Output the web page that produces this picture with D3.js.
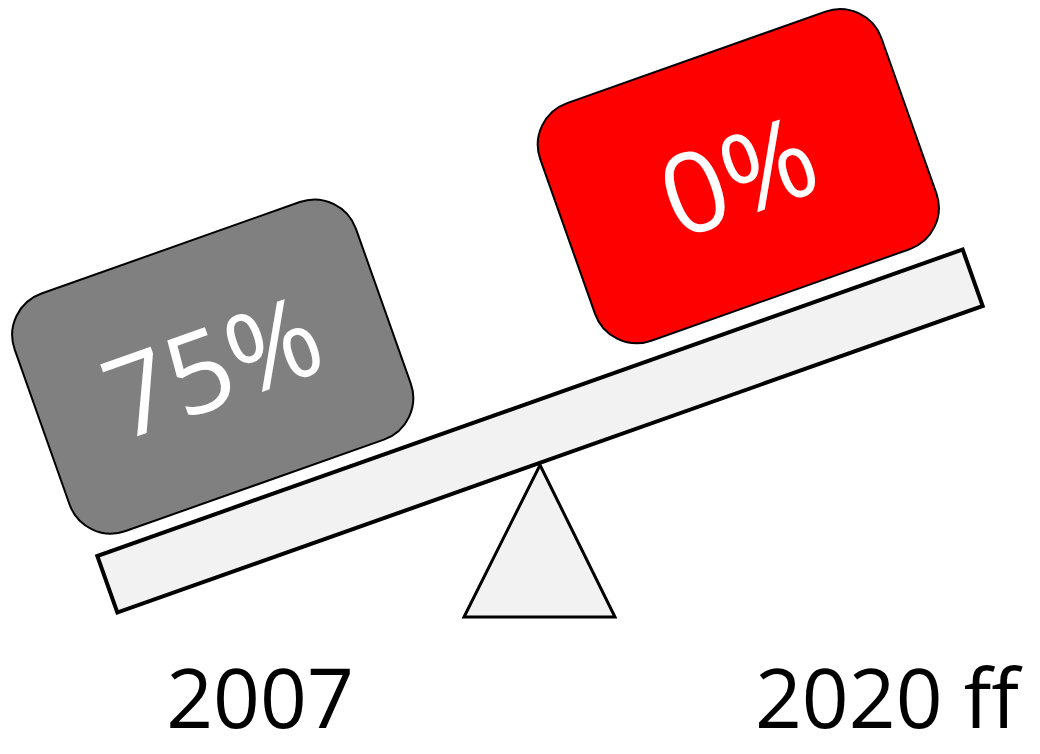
<!DOCTYPE html>
<html>
<head>
<meta charset="utf-8">
<script src="https://cdn.jsdelivr.net/npm/d3@7"></script>
<style>
  body { margin: 0; background: #ffffff; }
  svg { display: block; }
</style>
</head>
<body>
<div id="chart"></div>
<script>
// Data
const periods = ["2007", "2020 ff"];
const shares = ["75%", "0%"];
const boxColors = ["#808080", "#ff0000"];

const width = 1040;
const height = 754;
const tilt = -19.5;          // beam angle in degrees
const beamLength = 918;
const beamThick = 60;
const pivot = { x: 540, y: 431 };

const svg = d3.select("#chart").append("svg")
    .attr("width", width)
    .attr("height", height);

// scale along the beam (local, rotated frame)
const along = d3.scalePoint()
    .domain(periods)
    .range([-287, 272]);

// scale for the labels under the seesaw
const labelX = d3.scalePoint()
    .domain(periods)
    .range([260, 887]);

// support triangle
const triangle = d3.line();
svg.append("path")
    .attr("d", triangle([[540, 465], [615, 617], [464, 617]]) + "Z")
    .style("fill", "#f2f2f2")
    .style("stroke", "#000")
    .style("stroke-width", 3)
    .style("stroke-linejoin", "miter");

// beam + boxes share one rotated group
const beam = svg.append("g")
    .attr("transform", `translate(${pivot.x},${pivot.y}) rotate(${tilt})`);

beam.append("rect")
    .attr("x", -beamLength / 2)
    .attr("y", -beamThick / 2)
    .attr("width", beamLength)
    .attr("height", beamThick)
    .style("fill", "#f2f2f2")
    .style("stroke", "#000")
    .style("stroke-width", 4);

const boxW = 362;
const boxH = 252;

const boxes = beam.selectAll("g.box")
    .data(periods)
    .enter()
    .append("g")
    .attr("class", "box")
    .attr("transform", (d, i) => `translate(${along(d)},${i === 0 ? -170 : -174})`);

boxes.append("rect")
    .attr("x", -boxW / 2)
    .attr("y", -boxH / 2)
    .attr("width", boxW)
    .attr("height", boxH)
    .attr("rx", 44)
    .attr("ry", 44)
    .style("fill", (d, i) => boxColors[i])
    .style("stroke", "#000")
    .style("stroke-width", 2);

boxes.append("text")
    .attr("x", 0)
    .attr("y", 0)
    .attr("dy", "0.36em")
    .attr("text-anchor", "middle")
    .style("font-family", "'Open Sans', sans-serif")
    .style("font-size", "112px")
    .style("fill", "#ffffff")
    .text((d, i) => shares[i]);

// period labels (baseline kept high enough that the descent fits)
svg.selectAll("text.period")
    .data(periods)
    .enter()
    .append("text")
    .attr("class", "period")
    .attr("x", d => labelX(d))
    .attr("y", 728)
    .attr("text-anchor", "middle")
    .style("font-family", "'Open Sans', sans-serif")
    .style("font-size", "82px")
    .style("fill", "#000")
    .text(d => d);
</script>
</body>
</html>
